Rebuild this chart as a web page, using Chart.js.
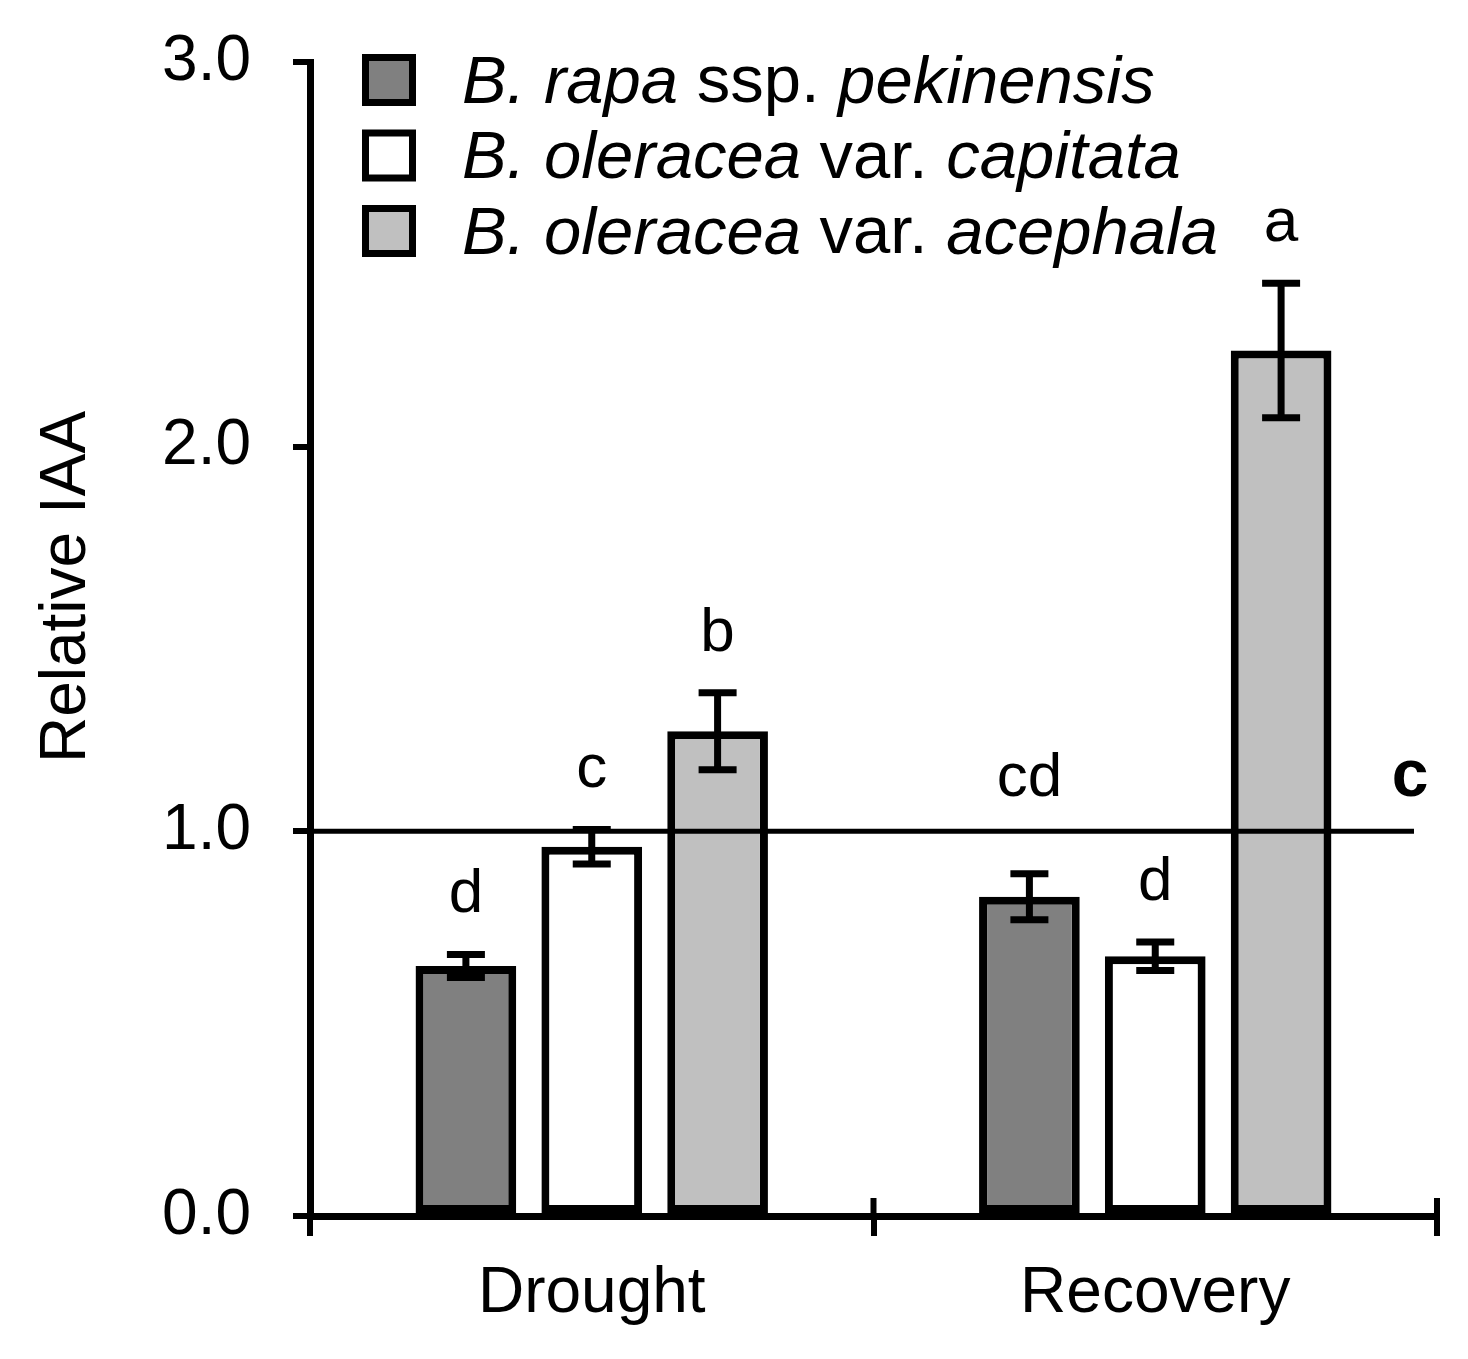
<!DOCTYPE html>
<html>
<head>
<meta charset="utf-8">
<script src="https://cdn.jsdelivr.net/npm/chart.js@4.4.1/dist/chart.umd.min.js"></script>
<style>
  body { margin: 0; background: #fff; }
  #wrap { width: 1468px; height: 1359px; }
</style>
</head>
<body>
<div id="wrap"><canvas id="iaaChart"></canvas></div>
<script>
const groups = ['Drought', 'Recovery'];
const seriesNames = ['B. rapa ssp. pekinensis', 'B. oleracea var. capitata', 'B. oleracea var. acephala'];

const pekinensis = [0.65, 0.83];
const pekinensisErr = [0.03, 0.06];
const capitata = [0.96, 0.675];
const capitataErr = [0.045, 0.037];
const acephala = [1.26, 2.25];
const acephalaErr = [0.10, 0.175];

const pekinensisLetters = ['d', 'cd'];
const capitataLetters = ['c', 'd'];
const acephalaLetters = ['b', 'a'];

const controlLevel = 1.0;
const controlLetter = 'c';
const yTicks = [0, 1, 2, 3];

const FONT = '"Liberation Sans", Arial, sans-serif';
const uprightWords = ['ssp.', 'var.'];

const extras = {
    id: 'extras',
    afterDatasetsDraw(chart) {
        const ctx = chart.ctx;
        const xs = chart.scales.x;
        const ys = chart.scales.y;
        const area = chart.chartArea;
        ctx.save();

        // control line at 1.0
        const yRef = ys.getPixelForValue(controlLevel);
        ctx.strokeStyle = '#000';
        ctx.lineWidth = 5;
        ctx.beginPath();
        ctx.moveTo(area.left, yRef);
        ctx.lineTo(area.right - 23, yRef);
        ctx.stroke();
        ctx.fillStyle = '#000';
        ctx.font = 'bold 66px ' + FONT;
        ctx.textAlign = 'center';
        ctx.textBaseline = 'alphabetic';
        ctx.fillText(controlLetter, area.right - 27, yRef - 35);

        // error bars and letters
        chart.data.datasets.forEach((ds, i) => {
            const meta = chart.getDatasetMeta(i);
            meta.data.forEach((bar, j) => {
                const v = ds.data[j], e = ds.errors[j];
                const top = ys.getPixelForValue(v + e);
                const bot = ys.getPixelForValue(v - e);
                ctx.lineWidth = 7;
                ctx.beginPath();
                ctx.moveTo(bar.x, top); ctx.lineTo(bar.x, bot);
                ctx.moveTo(bar.x - 19, top); ctx.lineTo(bar.x + 19, top);
                ctx.moveTo(bar.x - 19, bot); ctx.lineTo(bar.x + 19, bot);
                ctx.stroke();
                // keep letters clear of the control line
                let base = top - 42;
                if (base > yRef - 35 && base - 46 < yRef) base = yRef - 35;
                ctx.font = '62px ' + FONT;
                ctx.fillText(ds.letters[j], bar.x, base);
            });
        });

        // x tick marks crossing the axis
        ctx.lineWidth = 6;
        for (let k = 1; k <= groups.length; k++) {
            const px = xs.getPixelForValue(k - 0.5);
            ctx.beginPath();
            ctx.moveTo(px, area.bottom - 18);
            ctx.lineTo(px, area.bottom);
            ctx.stroke();
        }
        ctx.restore();
    },
    afterDraw(chart) {
        const ctx = chart.ctx;
        const area = chart.chartArea;
        ctx.save();
        ctx.fillStyle = '#000';

        // y title
        ctx.translate(67, 587);
        ctx.rotate(-Math.PI / 2);
        ctx.font = '64px ' + FONT;
        ctx.textAlign = 'center';
        ctx.textBaseline = 'middle';
        ctx.fillText('Relative IAA', 0, 0);
        ctx.setTransform(1, 0, 0, 1, 0, 0);

        // legend
        ctx.textAlign = 'left';
        chart.data.datasets.forEach((ds, i) => {
            const cy = 80 + i * 75.5;
            const bx = area.left + 52, bw = 54, bh = 52;
            ctx.fillStyle = ds.backgroundColor;
            ctx.fillRect(bx, cy - bh / 2, bw, bh);
            ctx.strokeStyle = '#000';
            ctx.lineWidth = 7;
            ctx.strokeRect(bx + 3.5, cy - bh / 2 + 3.5, bw - 7, bh - 7);

            ctx.fillStyle = '#000';
            let tx = area.left + 152;
            ds.label.split(' ').forEach(w => {
                ctx.font = (uprightWords.includes(w) ? '' : 'italic ') + '67px ' + FONT;
                ctx.fillText(w, tx, cy + 4);
                tx += ctx.measureText(w + ' ').width;
            });
        });
        ctx.restore();
    }
};

const ctxIaa = document.getElementById('iaaChart').getContext('2d');
new Chart(ctxIaa, {
    type: 'bar',
    data: {
        labels: groups,
        datasets: [{
            label: seriesNames[0],
            data: pekinensis,
            errors: pekinensisErr,
            letters: pekinensisLetters,
            backgroundColor: '#808080'
        }, {
            label: seriesNames[1],
            data: capitata,
            errors: capitataErr,
            letters: capitataLetters,
            backgroundColor: '#ffffff'
        }, {
            label: seriesNames[2],
            data: acephala,
            errors: acephalaErr,
            letters: acephalaLetters,
            backgroundColor: '#c0c0c0'
        }]
    },
    options: {
        responsive: true,
        maintainAspectRatio: false,
        animation: false,
        devicePixelRatio: 1,
        layout: {
            padding: { left: 0, top: 62, right: 31, bottom: 0 }
        },
        datasets: {
            bar: {
                borderColor: '#000',
                borderWidth: 8,
                borderSkipped: false,
                categoryPercentage: 0.67,
                barPercentage: 0.8
            }
        },
        scales: {
            x: {
                afterFit(scale) { scale.height = 143; },
                border: { width: 7, color: '#000' },
                grid: {
                    offset: true,
                    drawOnChartArea: false,
                    color: '#000',
                    lineWidth: 6,
                    tickLength: 20
                },
                ticks: {
                    color: '#000',
                    padding: 20,
                    font: { family: FONT, size: 64 }
                }
            },
            y: {
                afterFit(scale) {
                    scale.width = 310;
                    scale.paddingTop = 0;
                    scale.paddingBottom = 0;
                },
                min: 0,
                max: 3,
                afterBuildTicks(scale) {
                    scale.ticks = yTicks.map(v => ({ value: v }));
                },
                border: { width: 7, color: '#000' },
                grid: {
                    drawOnChartArea: false,
                    color: '#000',
                    lineWidth: 6,
                    tickLength: 17
                },
                ticks: {
                    color: '#000',
                    padding: 42,
                    font: { family: FONT, size: 64 },
                    callback: v => v.toFixed(1)
                }
            }
        },
        plugins: {
            legend: { display: false },
            tooltip: { enabled: false }
        }
    },
    plugins: [extras]
});
</script>
</body>
</html>
